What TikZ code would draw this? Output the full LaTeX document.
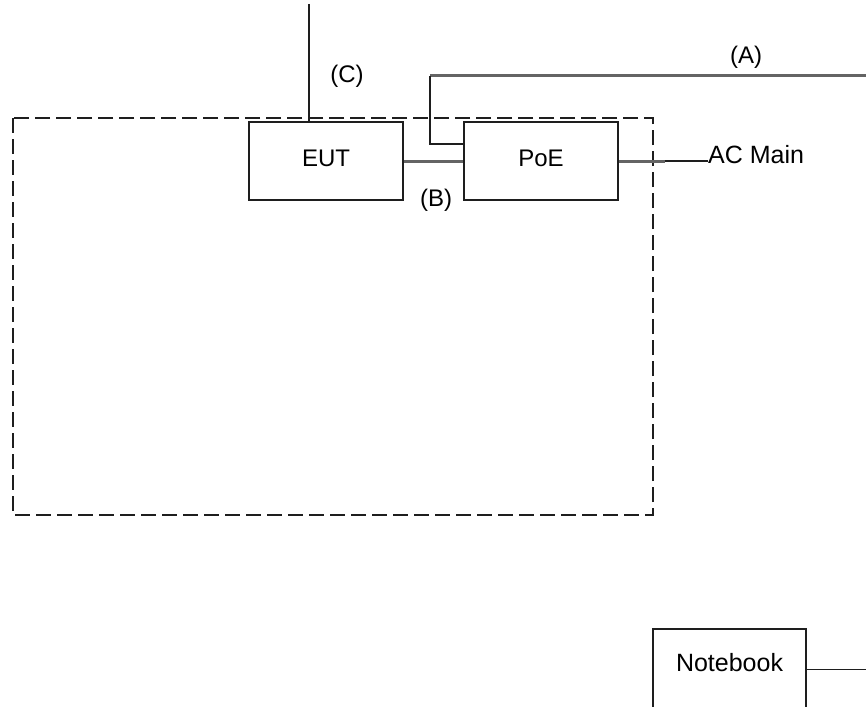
\documentclass[tikz,border=0pt]{standalone}
\usepackage{fontspec}
\setmainfont{Liberation Sans}
\usetikzlibrary{positioning}
\definecolor{cablegray}{RGB}{100,100,100}
\definecolor{wireblack}{RGB}{30,30,30}
\begin{document}
\begin{tikzpicture}[x=1pt,y=-1pt,
  unitbox/.style={draw=wireblack, line width=1.5pt, minimum width=154pt, minimum height=78pt, inner sep=0pt, text depth=6pt, font=\fontsize{24}{28}\selectfont},
  tag/.style={inner sep=0pt, font=\fontsize{24}{28}\selectfont},
  cable/.style={draw=cablegray, line width=3pt},
  wire/.style={draw=wireblack, line width=1.5pt},
  frame/.style={draw=wireblack, line width=1.4pt, dash pattern=on 15pt off 6pt}]
\useasboundingbox (0,0) rectangle (866,706);
\draw[frame] (13,118) rectangle (653,515);
\node[unitbox] (eut) at (326,161) {EUT};
\node[unitbox] (poe) at (541,161) {PoE};
\node[unitbox, minimum width=153pt, minimum height=81pt, text depth=15pt, font=\fontsize{25}{29}\selectfont] (notebook) at (729.5,669.5) {Notebook};
\node[tag, anchor=base west, font=\fontsize{25}{29}\selectfont] (acmain) at (708,163) {AC Main};
\node[tag] (labc) at (347,76) {(C)};
\node[tag] (labb) at (436,200) {(B)};
\node[tag] (laba) at (746,57) {(A)};
\coordinate (ctop) at (309,4);
\coordinate (aend) at (866,76);
\coordinate (abend) at (430,76);
\coordinate (acjoin) at (665,161);
\coordinate (nbend) at (866,669.5);
\draw[wire] (ctop) -- (ctop |- eut.north);
\draw[cable] (eut.east) -- (poe.west);
\draw[cable] (aend) -- (abend);
\draw[wire] (abend) |- ([yshift=17pt]poe.west);
\draw[cable] (poe.east) -- (acjoin);
\draw[wire] (acjoin) -- (acjoin -| acmain.west);
\draw[wire] (notebook.east) -- (nbend);
\end{tikzpicture}
\end{document}
